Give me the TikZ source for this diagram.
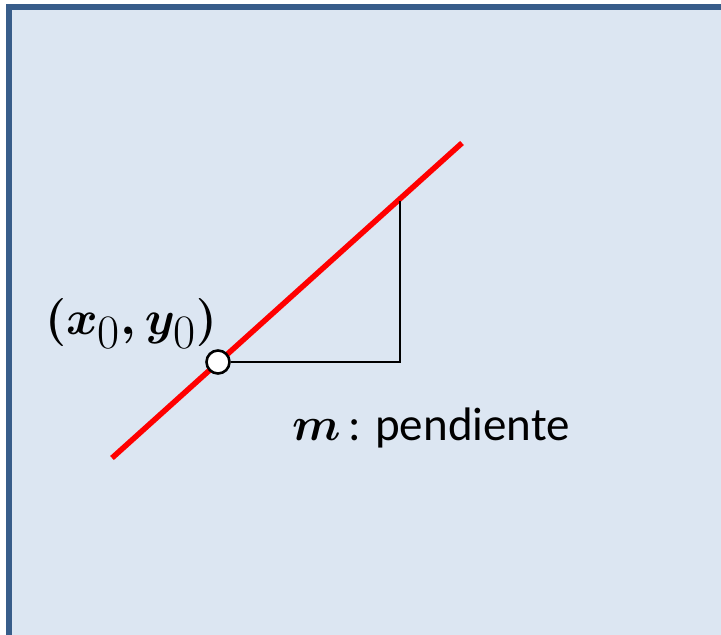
\RequirePackage{fix-cm}
\documentclass[tikz,border=0pt]{standalone}
\usepackage{fontspec}
\setsansfont{Carlito}
\usepackage{tikz}
\usetikzlibrary{positioning}
\definecolor{PanelFill}{HTML}{DCE6F2}
\definecolor{PanelFrame}{HTML}{385D8A}
\definecolor{SlopeRed}{HTML}{FF0000}
\tikzset{
  panel/.style={draw=PanelFrame, fill=PanelFill, line width=6pt},
  slopeline/.style={draw=SlopeRed, line width=5.5pt},
  legline/.style={draw=black, line width=2.6pt},
  pointnode/.style={circle, draw=black, fill=white, line width=2.6pt,
                    minimum size=23pt, inner sep=0pt},
  mathlabel/.style={font=\fontsize{48}{58}\selectfont\boldmath, inner sep=0pt},
  slopelabel/.style={font=\fontsize{47}{56}\selectfont\sffamily\boldmath, inner sep=0pt}
}

\begin{document}
\begin{tikzpicture}[x=1pt, y=-1pt]
  \useasboundingbox (0,0) rectangle (721,635);
  \clip (0,0) rectangle (721,635);
  \draw[panel] (9,7) rectangle (760,680);

  \coordinate (lo)     at (112,458);
  \coordinate (hi)     at (462,143);
  \coordinate (corner) at (400,362);
  \coordinate (top)    at (400,201);
  \draw[slopeline] (lo) -- (hi);
  \node[pointnode] (p0) at (218,362) {};
  \draw[legline] (p0) -- (corner) -- (top);

  \node[mathlabel, anchor=base]       (p0lbl) at (131,334) {$(x_{\textnormal{0}},y_{\textnormal{0}})$};
  \node[slopelabel, anchor=base west] (mlbl)  at (292,440) {$m$\,: pendiente};
\end{tikzpicture}
\end{document}
